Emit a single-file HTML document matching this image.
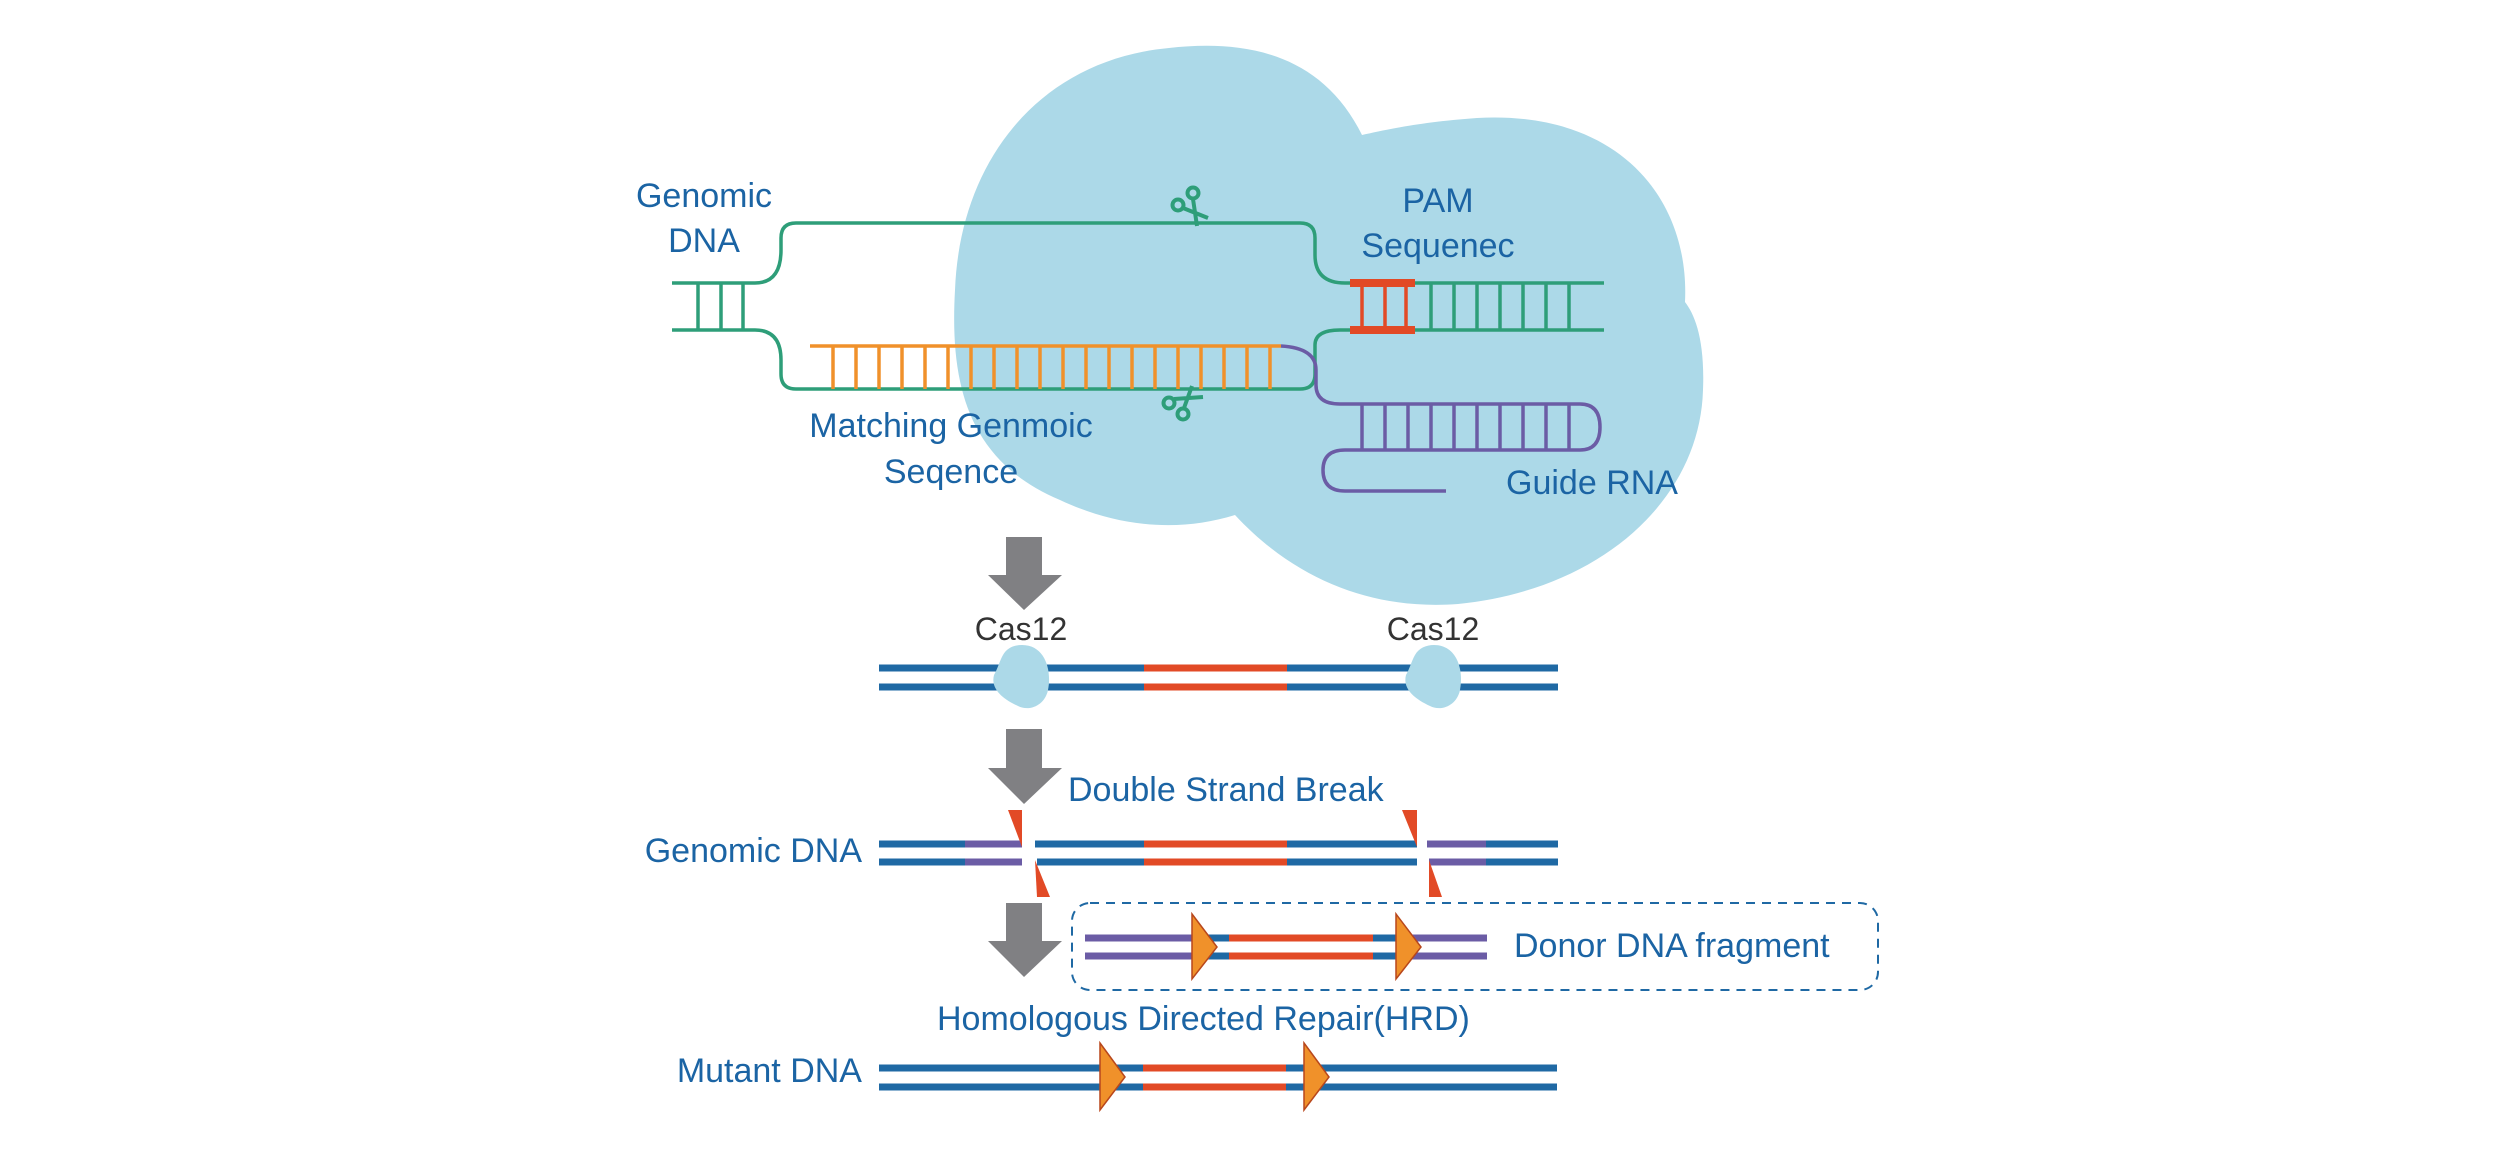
<!DOCTYPE html>
<html><head><meta charset="utf-8"><style>
html,body{margin:0;padding:0;background:#fff;}
svg{display:block;}
text{font-family:"Liberation Sans",sans-serif;}
</style></head><body>
<svg width="2500" height="1160" viewBox="0 0 2500 1160" xmlns="http://www.w3.org/2000/svg">
<!-- blob -->
<path d="M1362,135 C1320,50 1240,40 1169,48 C1040,60 960,160 955,290 C950,380 965,460 1060,500 C1120,528 1180,532 1235,515 C1300,585 1380,610 1458,604 C1600,590 1700,500 1703,390 C1705,340 1695,315 1685,302 C1690,200 1620,110 1477,118 C1420,122 1385,130 1362,135 Z" fill="#acd9e8"/>
<g fill="none" stroke-width="3.5">
<!-- left stub -->
<path d="M672,283 H755 Q781,283 781,250 V238 Q781,223 796,223 H1300 Q1315,223 1315,238 V255 Q1315,283 1345,283 H1604" stroke="#2e9e79"/>
<path d="M672,330 H755 Q781,330 781,360 V374 Q781,389 796,389 H1300 Q1315,389 1315,374 V345 Q1315,330 1340,330 H1604" stroke="#2e9e79"/>
<line x1="698" y1="283" x2="698" y2="330" stroke="#2e9e79"/>
<line x1="721" y1="283" x2="721" y2="330" stroke="#2e9e79"/>
<line x1="743" y1="283" x2="743" y2="330" stroke="#2e9e79"/>
<!-- green rungs right -->
<g stroke="#2e9e79">
<line x1="1431" y1="283" x2="1431" y2="330"/><line x1="1454" y1="283" x2="1454" y2="330"/><line x1="1477" y1="283" x2="1477" y2="330"/><line x1="1500" y1="283" x2="1500" y2="330"/><line x1="1523" y1="283" x2="1523" y2="330"/><line x1="1546" y1="283" x2="1546" y2="330"/><line x1="1569" y1="283" x2="1569" y2="330"/>
</g>
<!-- PAM red -->
<g stroke="#e24a26">
<line x1="1362" y1="283" x2="1362" y2="330"/><line x1="1385" y1="283" x2="1385" y2="330"/><line x1="1406" y1="283" x2="1406" y2="330"/>
<line x1="1350" y1="283" x2="1415" y2="283" stroke-width="8"/>
<line x1="1350" y1="330" x2="1415" y2="330" stroke-width="8"/>
</g>
<!-- orange strand -->
<line x1="810" y1="346" x2="1281" y2="346" stroke="#f0912a"/>
<g stroke="#f0912a">
<line x1="833" y1="346" x2="833" y2="389"/><line x1="856" y1="346" x2="856" y2="389"/><line x1="879" y1="346" x2="879" y2="389"/><line x1="902" y1="346" x2="902" y2="389"/><line x1="925" y1="346" x2="925" y2="389"/><line x1="948" y1="346" x2="948" y2="389"/><line x1="971" y1="346" x2="971" y2="389"/><line x1="994" y1="346" x2="994" y2="389"/><line x1="1017" y1="346" x2="1017" y2="389"/><line x1="1040" y1="346" x2="1040" y2="389"/><line x1="1063" y1="346" x2="1063" y2="389"/><line x1="1086" y1="346" x2="1086" y2="389"/><line x1="1109" y1="346" x2="1109" y2="389"/><line x1="1132" y1="346" x2="1132" y2="389"/><line x1="1155" y1="346" x2="1155" y2="389"/><line x1="1178" y1="346" x2="1178" y2="389"/><line x1="1201" y1="346" x2="1201" y2="389"/><line x1="1224" y1="346" x2="1224" y2="389"/><line x1="1247" y1="346" x2="1247" y2="389"/><line x1="1270" y1="346" x2="1270" y2="389"/>
</g>
<!-- purple guide -->
<path d="M1281,346 Q1316,348 1316,370 V385 Q1316,404 1340,404 H1580 Q1600,404 1600,427 Q1600,450 1580,450 H1345 Q1323,450 1323,470 Q1323,491 1345,491 H1446" stroke="#6b5ca5"/>
<g stroke="#6b5ca5">
<line x1="1362" y1="404" x2="1362" y2="450"/><line x1="1385" y1="404" x2="1385" y2="450"/><line x1="1408" y1="404" x2="1408" y2="450"/><line x1="1431" y1="404" x2="1431" y2="450"/><line x1="1454" y1="404" x2="1454" y2="450"/><line x1="1477" y1="404" x2="1477" y2="450"/><line x1="1500" y1="404" x2="1500" y2="450"/><line x1="1523" y1="404" x2="1523" y2="450"/><line x1="1546" y1="404" x2="1546" y2="450"/><line x1="1569" y1="404" x2="1569" y2="450"/>
</g>
</g>
<!-- scissors -->
<g fill="none" stroke="#2e9e79" stroke-width="4">
<circle cx="1178" cy="205" r="5.5"/><circle cx="1193" cy="193" r="5.5"/>
<path d="M1183,208 L1208,218 M1193,199 L1197,226"/>
<circle cx="1169" cy="403" r="5.5"/><circle cx="1183" cy="414" r="5.5"/>
<path d="M1174,399 L1203,397 M1184,408 L1192,386"/>
</g>
<!-- labels top -->
<g fill="#1b64a4" font-size="34" text-anchor="middle">
<text x="704" y="207">Genomic</text>
<text x="704" y="252">DNA</text>
<text x="1438" y="212">PAM</text>
<text x="1438" y="257">Sequenec</text>
<text x="951" y="437">Matching Genmoic</text>
<text x="951" y="483">Seqence</text>
<text x="1592" y="494">Guide RNA</text>
</g>
<!-- arrows -->
<g fill="#808083">
<path d="M1006,537 H1042 V575 H1062 L1024,610 L988,575 H1006 Z"/>
<path d="M1006,729 H1042 V768 H1062 L1024,804 L988,768 H1006 Z"/>
<path d="M1006,903 H1042 V941 H1062 L1024,977 L988,941 H1006 Z"/>
</g>
<!-- row 1 -->
<g stroke-width="7">
<line x1="879" y1="668" x2="1558" y2="668" stroke="#1f69a4"/>
<line x1="879" y1="687" x2="1558" y2="687" stroke="#1f69a4"/>
<line x1="1144" y1="668" x2="1287" y2="668" stroke="#e24a26"/>
<line x1="1144" y1="687" x2="1287" y2="687" stroke="#e24a26"/>
</g>
<path d="M1022,645 C1045,645 1052,670 1048,690 C1045,705 1030,712 1018,706 C1005,700 990,690 994,675 C998,668 1000,660 1003,655 C1007,648 1014,645 1022,645 Z" fill="#acd9e8"/>
<path d="M1434,645 C1457,645 1464,670 1460,690 C1457,705 1442,712 1430,706 C1417,700 1402,690 1406,675 C1410,668 1412,660 1415,655 C1419,648 1426,645 1434,645 Z" fill="#acd9e8"/>
<g fill="#333" font-size="32" text-anchor="middle">
<text x="1021" y="640">Cas12</text>
<text x="1433" y="640">Cas12</text>
</g>
<!-- row 2 -->
<g stroke-width="7">
<line x1="879" y1="844" x2="1022" y2="844" stroke="#1f69a4"/>
<line x1="879" y1="862" x2="1022" y2="862" stroke="#1f69a4"/>
<line x1="1035" y1="844" x2="1417" y2="844" stroke="#1f69a4"/>
<line x1="1037" y1="862" x2="1417" y2="862" stroke="#1f69a4"/>
<line x1="1427" y1="844" x2="1558" y2="844" stroke="#1f69a4"/>
<line x1="1429" y1="862" x2="1558" y2="862" stroke="#1f69a4"/>
<line x1="965" y1="844" x2="1022" y2="844" stroke="#6b5ca5"/>
<line x1="965" y1="862" x2="1022" y2="862" stroke="#6b5ca5"/>
<line x1="1427" y1="844" x2="1486" y2="844" stroke="#6b5ca5"/>
<line x1="1429" y1="862" x2="1486" y2="862" stroke="#6b5ca5"/>
<line x1="1144" y1="844" x2="1287" y2="844" stroke="#e24a26"/>
<line x1="1144" y1="862" x2="1287" y2="862" stroke="#e24a26"/>
</g>
<g fill="#e24a26">
<path d="M1008,810 H1022 V847 Z"/>
<path d="M1035,860 L1050,897 H1037 Z"/>
<path d="M1402,810 H1417 V847 Z"/>
<path d="M1429,860 L1442,897 H1429 Z"/>
</g>
<g fill="#1b64a4" font-size="34">
<text x="1068" y="801">Double Strand Break</text>
<text x="862" y="862" text-anchor="end">Genomic DNA</text>
</g>
<!-- donor box -->
<rect x="1072" y="903" width="806" height="87" rx="18" fill="none" stroke="#1f69a4" stroke-width="2" stroke-dasharray="9,7"/>
<g stroke-width="7">
<line x1="1085" y1="938" x2="1487" y2="938" stroke="#1f69a4"/>
<line x1="1085" y1="956" x2="1487" y2="956" stroke="#1f69a4"/>
<line x1="1085" y1="938" x2="1196" y2="938" stroke="#6b5ca5"/>
<line x1="1085" y1="956" x2="1196" y2="956" stroke="#6b5ca5"/>
<line x1="1396" y1="938" x2="1487" y2="938" stroke="#6b5ca5"/>
<line x1="1396" y1="956" x2="1487" y2="956" stroke="#6b5ca5"/>
<line x1="1229" y1="938" x2="1373" y2="938" stroke="#e24a26"/>
<line x1="1229" y1="956" x2="1373" y2="956" stroke="#e24a26"/>
</g>
<g fill="#f0912a" stroke="#b8471c" stroke-width="1.5">
<path d="M1192,914 L1217,947 L1192,979 Z"/>
<path d="M1396,914 L1421,947 L1396,979 Z"/>
</g>
<g fill="#1b64a4" font-size="34">
<text x="1514" y="957">Donor DNA fragment</text>
<text x="937" y="1030">Homologous Directed Repair(HRD)</text>
<text x="862" y="1082" text-anchor="end">Mutant DNA</text>
</g>
<!-- mutant -->
<g stroke-width="7">
<line x1="879" y1="1068" x2="1557" y2="1068" stroke="#1f69a4"/>
<line x1="879" y1="1087" x2="1557" y2="1087" stroke="#1f69a4"/>
<line x1="1143" y1="1068" x2="1286" y2="1068" stroke="#e24a26"/>
<line x1="1143" y1="1087" x2="1286" y2="1087" stroke="#e24a26"/>
</g>
<g fill="#f0912a" stroke="#b8471c" stroke-width="1.5">
<path d="M1100,1043 L1125,1077 L1100,1110 Z"/>
<path d="M1304,1043 L1329,1077 L1304,1110 Z"/>
</g>
</svg>
</body></html>
